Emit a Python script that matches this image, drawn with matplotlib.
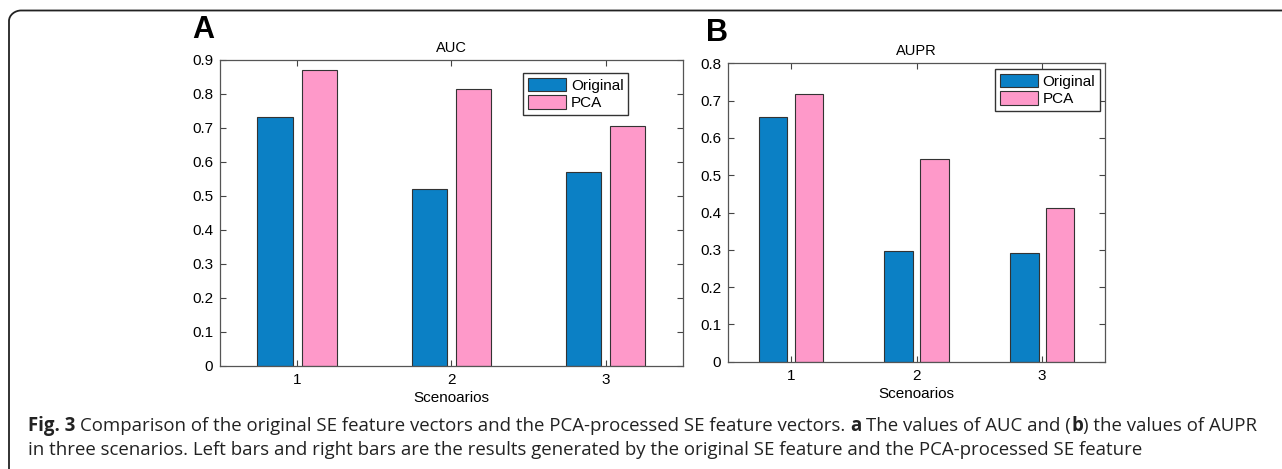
import matplotlib
matplotlib.use("Agg")
import matplotlib.pyplot as plt
import numpy as np
from matplotlib.path import Path
from matplotlib.patches import PathPatch

# data
scenarios = [1, 2, 3]
auc_original = [0.733, 0.519, 0.569]
auc_pca = [0.870, 0.816, 0.705]
aupr_original = [0.657, 0.298, 0.291]
aupr_pca = [0.718, 0.543, 0.412]
series_names = ["Original", "PCA"]

BLUE = "#0b80c5"
PINK = "#fe99c9"

plt.rcParams["font.family"] = ["Liberation Sans", "DejaVu Sans"]

fig = plt.figure(figsize=(12.82, 4.69), dpi=100)


def draw_panel(ax, orig, pca, title, ymax, letter):
    x = np.array(scenarios)
    w = 0.228
    ax.bar(x - 0.143, orig, w, color=BLUE, edgecolor="#333333", linewidth=0.8,
           label=series_names[0])
    ax.bar(x + 0.143, pca, w, color=PINK, edgecolor="#333333", linewidth=0.8,
           label=series_names[1])
    ax.set_xlim(0.5, 3.5)
    ax.set_ylim(0, ymax)
    ax.set_xticks(scenarios)
    ax.set_yticks(np.round(np.arange(0, ymax + 0.01, 0.1), 1))
    ax.set_yticklabels(["0"] + ["%.1f" % v for v in np.arange(0.1, ymax + 0.01, 0.1)])
    ax.tick_params(direction="in", top=True, right=True, labelsize=11,
                   length=4, width=0.8, color="#444444", pad=5)
    for s in ax.spines.values():
        s.set_color("#555555")
        s.set_linewidth(0.9)
    ax.set_title(title, fontsize=10.5, pad=6)
    ax.set_xlabel("Scenoarios", fontsize=11, labelpad=3)
    ax.text(-0.06, 1.05, letter, transform=ax.transAxes, fontsize=22,
            fontweight="bold", ha="left", va="bottom")


ax1 = fig.add_axes([0.1716, 0.2203, 0.3609, 0.6518])
draw_panel(ax1, auc_original, auc_pca, "AUC", 0.9, "A")
ax1.legend(loc="upper right", bbox_to_anchor=(0.4899, 0.8443),
           bbox_transform=fig.transFigure, borderaxespad=0, fancybox=False,
           edgecolor="#333333", fontsize=11, handlelength=2.5,
           handleheight=1.0, handletextpad=0.3, labelspacing=0.15,
           borderpad=0.3, framealpha=1)

ax2 = fig.add_axes([0.5681, 0.2288, 0.2938, 0.6362])
draw_panel(ax2, aupr_original, aupr_pca, "AUPR", 0.8, "B")
ax2.legend(loc="upper right", bbox_to_anchor=(0.858, 0.8529),
           bbox_transform=fig.transFigure, borderaxespad=0, fancybox=False,
           edgecolor="#333333", fontsize=11, handlelength=2.5,
           handleheight=1.0, handletextpad=0.3, labelspacing=0.15,
           borderpad=0.3, framealpha=1)

# rounded frame on the left and top of the figure
W, H = 1282.0, 469.0
verts = [(9, 469), (9, 21), (9, 15), (15, 10.5), (21, 10.5), (1282, 10.5)]
codes = [Path.MOVETO, Path.LINETO, Path.CURVE4, Path.CURVE4, Path.CURVE4, Path.LINETO]
verts = [(vx / W, 1 - vy / H) for vx, vy in verts]
fig.patches.append(PathPatch(Path(verts, codes), transform=fig.transFigure,
                             fill=False, edgecolor="#222222", linewidth=1.3))

# caption, written piece by piece so the bold bits stay in the same font
cap_font = ["Open Sans", "DejaVu Sans"]
renderer = fig.canvas.get_renderer()
CAP_SIZE = 13.4


def caption_line(pieces, x0, y0, size=CAP_SIZE):
    x = x0
    space = fig.text(0, 0, "a a", fontsize=size, family=cap_font)
    nospace = fig.text(0, 0, "aa", fontsize=size, family=cap_font)
    sp = space.get_window_extent(renderer).width - nospace.get_window_extent(renderer).width
    space.remove()
    nospace.remove()
    for txt, weight in pieces:
        lead = len(txt) - len(txt.lstrip(" "))
        core = txt.strip(" ")
        trail = len(txt.rstrip(" ")) and len(txt) - len(txt.rstrip(" "))
        x += lead * sp
        t = fig.text(x / W, 1 - y0 / H, core, fontsize=size, fontweight=weight,
                     family=cap_font, color="#222222", va="baseline")
        x += t.get_window_extent(renderer).width + trail * sp


caption_line([("Fig. 3", "bold"),
              (" Comparison of the original SE feature vectors and the PCA-processed "
               "SE feature vectors. ", "normal"),
              ("a", "bold"),
              (" The values of AUC and (", "normal"),
              ("b", "bold"),
              (") the values of AUPR", "normal")], 28, 431)
caption_line([("in three scenarios. Left bars and right bars are the results generated "
               "by the original SE feature and the PCA-processed SE feature", "normal")],
             28, 455)

plt.savefig("out.png", dpi=100)
